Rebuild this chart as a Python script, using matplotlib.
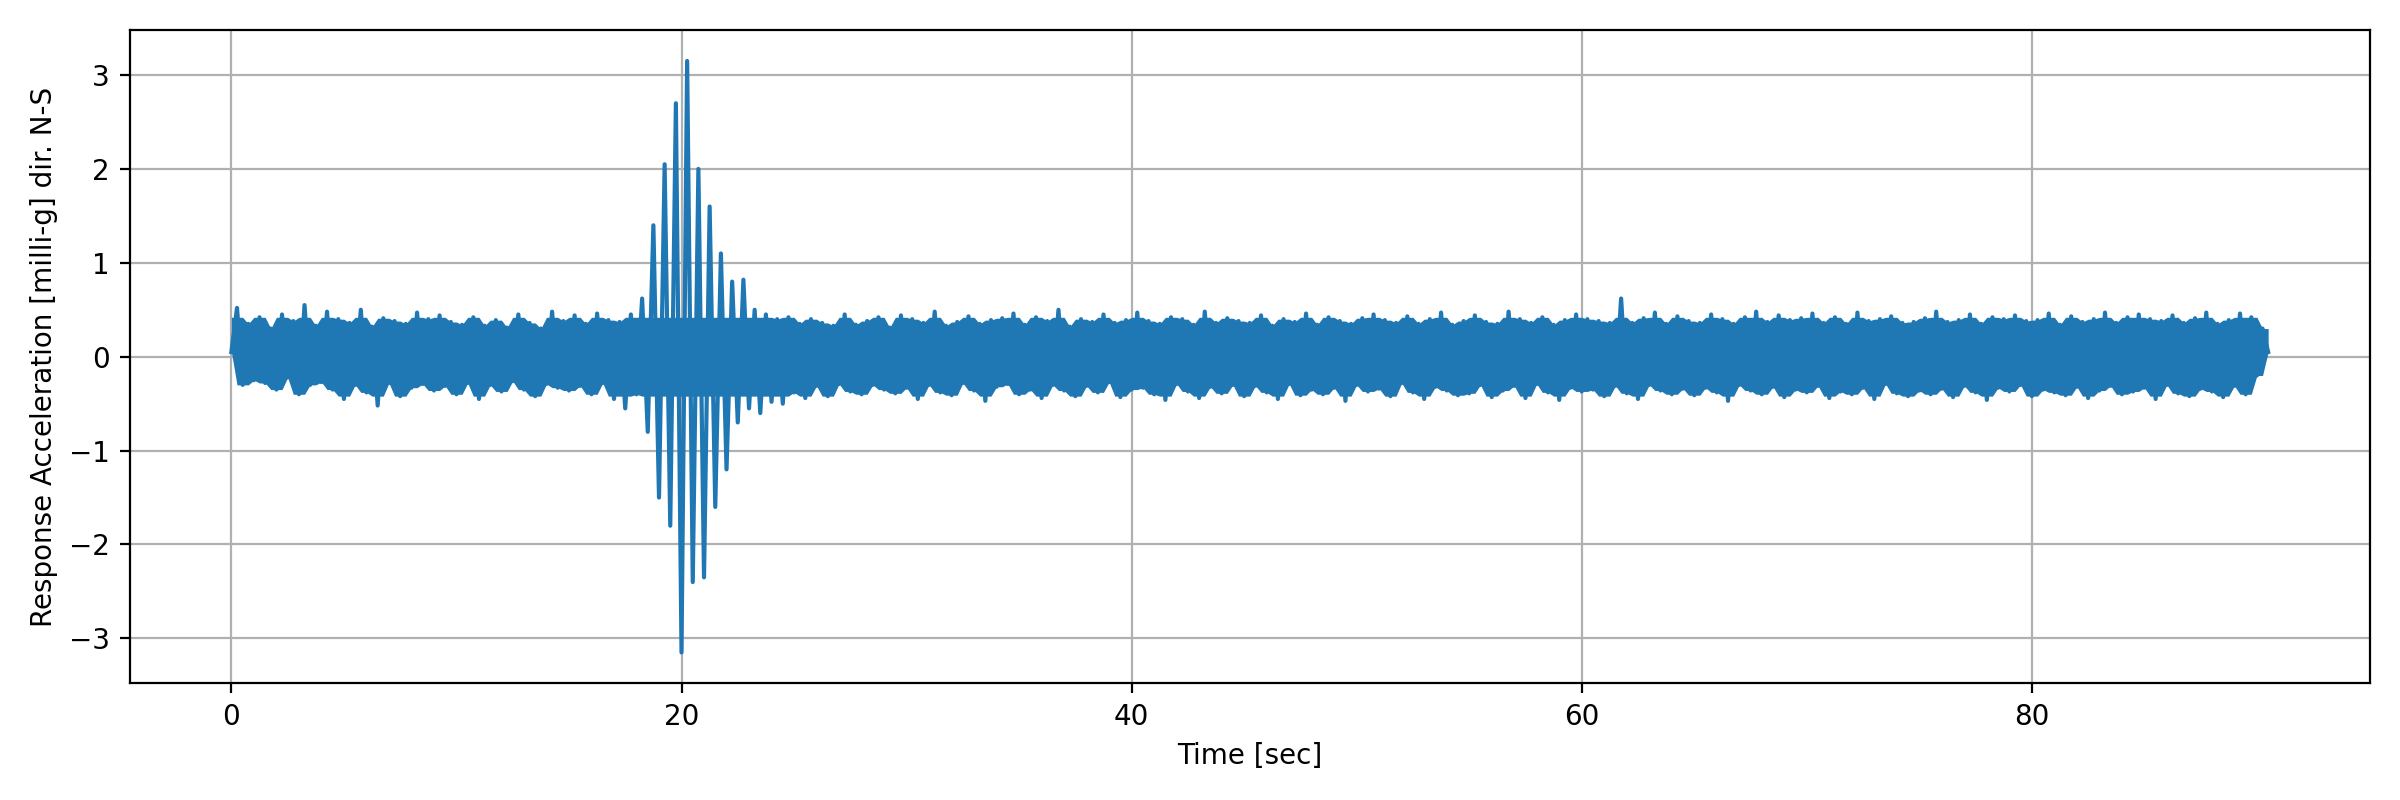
import numpy as np
import matplotlib
matplotlib.use("Agg")
import matplotlib.pyplot as plt

sample_step = 0.25  # seconds between read-off peak values
accel = [
 0.05,0.52,-0.30,0.35,-0.25,0.42,-0.28,0.30,-0.35,0.45,-0.22,0.38,-0.40,0.55,-0.30,0.33,-0.27,0.48,-0.35,0.40,
 -0.45,0.36,-0.30,0.50,-0.38,0.32,-0.52,0.41,-0.28,0.38,-0.42,0.35,-0.33,0.47,-0.29,0.40,-0.36,0.44,-0.31,0.37,
 -0.40,0.34,-0.28,0.42,-0.45,0.33,-0.30,0.39,-0.37,0.31,-0.26,0.45,-0.35,0.36,-0.42,0.30,-0.29,0.48,-0.33,0.38,
 -0.36,0.44,-0.31,0.35,-0.40,0.46,-0.28,0.39,-0.45,0.37,-0.55,0.45,-0.40,0.62,-0.80,1.40,-1.50,2.05,-1.80,2.70,
 -3.15,3.15,-2.40,2.00,-2.35,1.60,-1.60,1.10,-1.20,0.80,-0.70,0.82,-0.55,0.50,-0.60,0.45,-0.48,0.40,-0.50,0.42,
 -0.38,0.35,-0.44,0.40,-0.31,0.36,-0.42,0.33,-0.29,0.45,-0.37,0.34,-0.40,0.38,-0.30,0.42,-0.35,0.31,-0.39,0.44,
 -0.33,0.40,-0.45,0.36,-0.30,0.48,-0.38,0.33,-0.41,0.37,-0.28,0.43,-0.36,0.35,-0.47,0.39,-0.32,0.41,-0.29,0.46,
 -0.40,0.34,-0.35,0.42,-0.44,0.38,-0.30,0.50,-0.36,0.32,-0.42,0.40,-0.31,0.37,-0.38,0.45,-0.27,0.36,-0.43,0.39,
 -0.35,0.47,-0.33,0.38,-0.40,0.35,-0.46,0.42,-0.29,0.40,-0.37,0.34,-0.44,0.48,-0.32,0.36,-0.39,0.41,-0.30,0.38,
 -0.42,0.36,-0.31,0.44,-0.38,0.33,-0.45,0.40,-0.29,0.37,-0.41,0.46,-0.35,0.34,-0.40,0.42,-0.33,0.38,-0.47,0.35,
 -0.30,0.41,-0.37,0.45,-0.34,0.39,-0.42,0.36,-0.28,0.43,-0.38,0.35,-0.45,0.40,-0.32,0.47,-0.36,0.34,-0.41,0.38,
 -0.39,0.44,-0.30,0.37,-0.43,0.35,-0.36,0.48,-0.31,0.40,-0.44,0.36,-0.29,0.42,-0.38,0.34,-0.46,0.39,-0.33,0.45,
 -0.37,0.40,-0.35,0.38,-0.42,0.36,-0.31,0.62,-0.39,0.36,-0.45,0.41,-0.30,0.47,-0.36,0.35,-0.40,0.43,-0.34,0.38,
 -0.41,0.36,-0.33,0.45,-0.38,0.40,-0.47,0.35,-0.30,0.42,-0.36,0.48,-0.40,0.37,-0.32,0.44,-0.43,0.39,-0.35,0.41,
 -0.38,0.46,-0.31,0.36,-0.44,0.42,-0.37,0.35,-0.40,0.47,-0.33,0.38,-0.45,0.40,-0.29,0.43,-0.39,0.36,-0.42,0.37,
 -0.36,0.41,-0.40,0.48,-0.34,0.37,-0.43,0.39,-0.31,0.45,-0.38,0.35,-0.46,0.42,-0.33,0.40,-0.37,0.44,-0.30,0.38,
 -0.42,0.39,-0.35,0.46,-0.38,0.34,-0.41,0.43,-0.32,0.37,-0.44,0.40,-0.36,0.47,-0.31,0.36,-0.40,0.42,-0.37,0.45,
 -0.33,0.40,-0.45,0.38,-0.30,0.44,-0.39,0.36,-0.42,0.41,-0.34,0.47,-0.37,0.35,-0.43,0.39,-0.31,0.46,-0.40,0.42,
 -0.20,0.30,0.05,
]
core_limit = 0.42  # band kept solid up to this level; larger peaks drawn by the line only

t = np.arange(len(accel)) * sample_step
a = np.array(accel)
padded = np.concatenate([[a[0]], a, [a[-1]]])
stack = np.vstack([padded[:-2], padded[1:-1], padded[2:]])
upper = np.minimum(stack.max(axis=0), core_limit)
lower = np.maximum(stack.min(axis=0), -core_limit)

color = "#1f77b4"
fig, ax = plt.subplots(figsize=(12, 4), dpi=200)
ax.set_axisbelow(True)
ax.fill_between(t, lower, upper, color=color, linewidth=0)
ax.plot(t, accel, color=color, linewidth=1.5)
ax.set_xlabel("Time [sec]")
ax.set_ylabel("Response Acceleration [milli-g] dir. N-S")
ax.set_ylim(-3.48, 3.48)
ax.set_yticks([-3, -2, -1, 0, 1, 2, 3])
ax.set_xticks([0, 20, 40, 60, 80])
ax.grid(True)
fig.tight_layout()
fig.savefig("out.png")
